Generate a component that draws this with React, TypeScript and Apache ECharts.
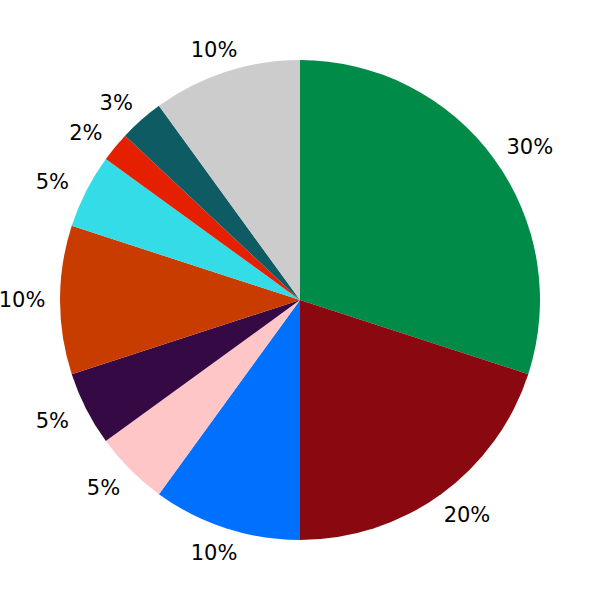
import React, { useEffect, useRef } from "react";
import * as echarts from "echarts";

const categories = ["A", "B", "C", "D", "E", "F", "G", "H", "I", "J"];
const values = [30, 20, 10, 5, 5, 10, 5, 2, 3, 10];
const colors = [
  "#008C48",
  "#8A0911",
  "#0070FF",
  "#FFC6C8",
  "#350A44",
  "#C83C00",
  "#33DCE6",
  "#E42000",
  "#0E5B63",
  "#CCCCCC",
];

const CX = 300;
const CY = 300;

export default function App() {
  const ref = useRef<HTMLDivElement>(null);
  useEffect(() => {
    document.body.style.margin = "0";
    const chart = echarts.init(ref.current!, null, { renderer: "svg" });
    const data = categories.map((c, i) => ({
      name: c,
      value: values[i],
      itemStyle: { color: colors[i] },
    }));
    chart.setOption({
      animation: false,
      series: [
        {
          type: "pie",
          center: [CX, CY],
          radius: [0, 240],
          startAngle: 90,
          clockwise: true,
          data,
          label: { show: false },
          labelLine: { show: false },
          itemStyle: { borderWidth: 0 },
          emphasis: { disabled: true },
          silent: true,
        },
        {
          type: "pie",
          center: [CX, CY],
          radius: [240, 286],
          startAngle: 90,
          clockwise: true,
          data: categories.map((c, i) => ({ name: c, value: values[i] })),
          itemStyle: { color: "rgba(0,0,0,0)", borderWidth: 0 },
          label: {
            show: true,
            position: "inside",
            rotate: 0,
            formatter: (p: any) => `${p.value}%`,
            fontFamily: "DejaVu Sans",
            fontSize: 21,
            color: "#000",
          },
          labelLayout: (params: any) => {
            const r = params.labelRect;
            const lx = r.x + r.width / 2 - CX;
            const ly = r.y + r.height / 2 - CY;
            return { dx: lx * (lx > 0 ? 0.068 : 0.045), dy: ly > 0 ? 0 : 3 };
          },
          labelLine: { show: false },
          emphasis: { disabled: true },
          silent: true,
        },
      ],
    });
    return () => chart.dispose();
  }, []);
  return <div ref={ref} style={{ width: 600, height: 600 }} />;
}
